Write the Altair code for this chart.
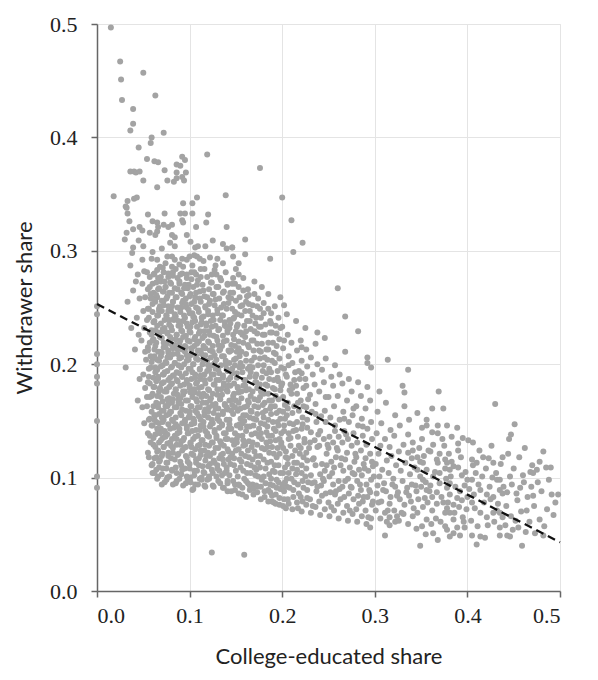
import altair as alt
import pandas as pd

# ---- scatter values (x = college-educated share, y = withdrawer share)
edge_zero = [(0,.251),(0,.244),(0,.209),(0,.2),(0,.189),(0,.183),(0,.15),(0,.101),(0,.091)]

top_outliers = [(.015,.497),(.025,.467),(.026,.451),(.050,.457),(.027,.433),(.063,.437),(.039,.425),(.039,.412),
 (.036,.406),(.072,.404),(.059,.400),(.058,.395),(.045,.391),(.119,.385),(.054,.381),(.062,.379),(.066,.378),
 (.092,.383),(.095,.380),(.086,.376),(.090,.375),(.176,.373),(.036,.370),(.040,.370),(.042,.369),(.046,.370),
 (.073,.371),(.086,.369),(.096,.369),(.050,.362),(.076,.362),(.083,.361),(.086,.364),(.092,.365),(.094,.362),
 (.065,.356),(.018,.348),(.033,.344),(.040,.346),(.043,.347),(.032,.338),(.093,.342),(.103,.342),(.108,.347),
 (.139,.349),(.200,.347),(.031,.339),(.033,.333),(.055,.332),(.073,.333),(.090,.333),(.095,.333),(.103,.333),(.120,.332)]

upper_fringe = [(.035,.326),(.039,.319),(.046,.321),(.049,.318),(.060,.326),(.065,.325),(.066,.321),(.065,.317),
 (.032,.316),(.030,.310),(.045,.309),(.039,.303),(.038,.298),(.050,.304),(.057,.316),(.063,.314),(.072,.323),
 (.077,.321),(.081,.323),(.081,.314),(.084,.312),(.079,.307),(.084,.304),(.092,.327),(.093,.325),(.097,.314),
 (.107,.321),(.118,.325),(.101,.308),(.106,.303),(.109,.304),(.117,.304),(.125,.309),(.136,.306),(.140,.302),
 (.146,.303),(.140,.321),(.060,.299),(.070,.302),(.049,.292),(.059,.293),(.065,.292),(.068,.286),(.076,.295),
 (.081,.295),(.084,.292),(.081,.286),(.092,.293),(.097,.292),(.100,.295),(.105,.296),(.108,.295),(.111,.293),
 (.122,.294),(.130,.293),(.136,.289),(.147,.295),(.160,.310),(.160,.297),(.187,.293),(.222,.307),(.210,.327),
 (.212,.299),(.146,.303),(.225,.232),(.238,.228),(.246,.223),(.221,.215),(.260,.267),(.268,.242),(.282,.229),
 (.268,.211),(.292,.206),(.292,.201),(.296,.197),(.074,.289),(.089,.288),(.103,.287),(.115,.291),(.128,.287),(.153,.289)]

left_fringe = [(.042,.273),(.033,.255),(.041,.213),(.031,.197),(.052,.211),(.044,.168),(.046,.187),(.045,.226),
 (.043,.241),(.046,.258),(.044,.279),(.037,.232),(.039,.265),(.036,.287),(.051,.148),(.049,.162),(.052,.179),
 (.05,.191),(.053,.204),(.048,.221),(.051,.232),(.05,.247),(.052,.259),(.049,.271),(.051,.282)]

bottom_fringe = [(.070,.094),(.075,.098),(.082,.094),(.059,.111),(.064,.107),(.098,.098),(.103,.089),(.113,.098),
 (.119,.098),(.141,.088),(.154,.093),(.168,.094),(.172,.093),(.187,.087),(.191,.078),(.124,.034),(.159,.032),
 (.104,.090),(.204,.073),(.200,.090),(.205,.092)]

core_a = [(.055,.122),(.057,.137),(.056,.151),(.054,.163),(.057,.171),(.055,.184),(.056,.196),(.058,.207),(.055,.215),
 (.057,.228),(.054,.239),(.056,.249),(.058,.258),(.055,.266),(.057,.277),
 (.06,.104),(.062,.117),(.061,.129),(.063,.138),(.06,.146),(.062,.155),(.061,.163),(.059,.172),(.062,.18),(.061,.188),
 (.063,.197),(.06,.205),(.062,.213),(.061,.222),(.059,.23),(.062,.238),(.06,.246),(.063,.255),(.061,.263),(.06,.271),(.062,.28),
 (.066,.101),(.067,.114),(.065,.123),(.067,.131),(.066,.14),(.064,.149),(.067,.156),(.066,.165),(.065,.172),(.068,.179),
 (.066,.187),(.065,.195),(.067,.203),(.066,.211),(.064,.219),(.067,.226),(.065,.234),(.066,.243),(.068,.251),(.065,.259),
 (.067,.267),(.066,.276),
 (.071,.108),(.07,.119),(.072,.127),(.071,.135),(.069,.143),(.072,.151),(.07,.159),(.071,.167),(.073,.176),(.07,.183),
 (.072,.191),(.071,.199),(.069,.207),(.072,.215),(.07,.223),(.071,.231),(.073,.239),(.07,.247),(.072,.256),(.071,.264),
 (.069,.273),(.072,.281),
 (.076,.1),(.075,.113),(.077,.122),(.076,.13),(.074,.139),(.077,.147),(.075,.155),(.076,.163),(.078,.17),(.075,.178),
 (.077,.186),(.076,.194),(.074,.202),(.077,.21),(.075,.218),(.076,.227),(.078,.235),(.075,.243),(.077,.251),(.076,.26),
 (.074,.268),(.077,.277)]

core_b = [(.081,.106),(.08,.117),(.082,.126),(.081,.134),(.079,.143),(.082,.15),(.08,.158),(.081,.166),(.083,.174),(.08,.182),
 (.082,.19),(.081,.198),(.079,.206),(.082,.214),(.08,.222),(.081,.23),(.083,.239),(.08,.247),(.082,.255),(.081,.263),
 (.079,.272),(.082,.281),
 (.086,.097),(.085,.109),(.087,.12),(.086,.129),(.084,.137),(.087,.145),(.085,.153),(.086,.162),(.088,.169),(.085,.177),
 (.087,.185),(.086,.193),(.084,.201),(.087,.209),(.085,.217),(.086,.226),(.088,.234),(.085,.242),(.087,.25),(.086,.259),
 (.084,.267),(.087,.276),
 (.091,.103),(.09,.114),(.092,.124),(.091,.132),(.089,.14),(.092,.148),(.09,.157),(.091,.165),(.093,.173),(.09,.181),
 (.092,.189),(.091,.197),(.089,.205),(.092,.213),(.09,.221),(.091,.23),(.093,.238),(.09,.246),(.092,.254),(.091,.263),
 (.089,.271),(.092,.28),
 (.096,.095),(.095,.108),(.097,.118),(.096,.127),(.094,.135),(.097,.143),(.095,.151),(.096,.159),(.098,.168),(.095,.176),
 (.097,.184),(.096,.192),(.094,.2),(.097,.208),(.095,.216),(.096,.225),(.098,.233),(.095,.241),(.097,.25),(.096,.258),
 (.094,.267),(.097,.276),
 (.101,.1),(.1,.112),(.102,.121),(.101,.13),(.099,.139),(.102,.147),(.1,.155),(.101,.163),(.103,.171),(.1,.179),
 (.102,.187),(.101,.196),(.099,.204),(.102,.212),(.1,.22),(.101,.228),(.103,.237),(.1,.245),(.102,.253),(.101,.262),
 (.099,.27),(.102,.281),
 (.106,.094),(.105,.106),(.107,.116),(.106,.125),(.104,.134),(.107,.142),(.105,.15),(.106,.159),(.108,.167),(.105,.175),
 (.107,.183),(.106,.191),(.104,.2),(.107,.208),(.105,.216),(.106,.224),(.108,.233),(.105,.241),(.107,.25),(.106,.259),
 (.104,.268),(.107,.279)]

core_c = [(.111,.099),(.11,.111),(.112,.12),(.111,.129),(.109,.137),(.112,.146),(.11,.154),(.111,.162),(.113,.171),(.11,.179),
 (.112,.187),(.111,.195),(.109,.204),(.112,.212),(.11,.22),(.111,.229),(.113,.237),(.11,.246),(.112,.255),(.111,.264),
 (.109,.274),(.112,.284),
 (.116,.093),(.115,.105),(.117,.115),(.116,.124),(.114,.133),(.117,.141),(.115,.149),(.116,.158),(.118,.166),(.115,.174),
 (.117,.183),(.116,.191),(.114,.2),(.117,.208),(.115,.216),(.116,.225),(.118,.234),(.115,.242),(.117,.251),(.116,.26),(.114,.27),
 (.121,.101),(.12,.11),(.122,.119),(.121,.128),(.119,.137),(.122,.145),(.12,.153),(.121,.162),(.123,.17),(.12,.178),
 (.122,.187),(.121,.195),(.119,.203),(.122,.212),(.12,.22),(.121,.229),(.123,.238),(.12,.247),(.122,.256),(.121,.266),(.119,.277),
 (.126,.092),(.125,.104),(.127,.113),(.126,.122),(.124,.131),(.127,.14),(.125,.148),(.126,.157),(.128,.165),(.125,.174),
 (.127,.182),(.126,.191),(.124,.199),(.127,.208),(.125,.216),(.126,.225),(.128,.234),(.125,.243),(.127,.252),(.126,.262),
 (.124,.272),(.127,.283),
 (.131,.097),(.13,.108),(.132,.117),(.131,.126),(.129,.135),(.132,.144),(.13,.152),(.131,.161),(.133,.169),(.13,.178),
 (.132,.186),(.131,.195),(.129,.204),(.132,.212),(.13,.221),(.131,.23),(.133,.239),(.13,.248),(.132,.258),(.131,.268),(.129,.279),
 (.136,.091),(.135,.102),(.137,.112),(.136,.121),(.134,.13),(.137,.139),(.135,.147),(.136,.156),(.138,.164),(.135,.173),
 (.137,.181),(.136,.19),(.134,.199),(.137,.207),(.135,.216),(.136,.225),(.138,.234),(.135,.243),(.137,.253),(.136,.263),(.134,.274),
 (.141,.095),(.14,.106),(.142,.116),(.141,.125),(.139,.134),(.142,.143),(.14,.151),(.141,.16),(.143,.168),(.14,.177),
 (.142,.186),(.141,.194),(.139,.203),(.142,.212),(.14,.221),(.141,.23),(.143,.239),(.14,.249),(.142,.259),(.141,.27),(.139,.281)]

core_d = [(.056,.118),(.058,.131),(.055,.139),(.057,.152),(.059,.158),(.054,.171),(.057,.183),(.056,.189),(.058,.197),
 (.055,.212),(.057,.219),(.059,.226),(.056,.241),(.055,.249),(.058,.262),(.057,.268),(.054,.281),
 (.062,.104),(.06,.112),(.063,.127),(.061,.135),(.059,.146),(.062,.151),(.064,.166),(.06,.174),(.061,.18),(.063,.193),
 (.059,.202),(.062,.207),(.06,.221),(.063,.23),(.061,.237),(.06,.253),(.062,.258),(.064,.272),(.061,.279),
 (.065,.099),(.067,.109),(.064,.118),(.066,.124),(.068,.139),(.065,.143),(.063,.155),(.066,.162),(.067,.176),(.064,.185),
 (.066,.189),(.065,.204),(.068,.211),(.063,.216),(.066,.228),(.065,.243),(.067,.247),(.064,.261),(.066,.266),(.065,.283),
 (.07,.103),(.068,.115),(.071,.121),(.069,.133),(.067,.148),(.07,.153),(.072,.159),(.069,.171),(.068,.178),(.071,.191),
 (.069,.198),(.07,.21),(.068,.224),(.071,.229),(.069,.236),(.067,.249),(.07,.256),(.072,.264),(.069,.277),
 (.073,.096),(.075,.108),(.072,.127),(.074,.136),(.073,.141),(.071,.149),(.074,.163),(.076,.169),(.072,.184),(.073,.193),
 (.075,.201),(.074,.215),(.072,.219),(.073,.232),(.075,.243),(.072,.252),(.074,.268),(.073,.273),(.071,.285),
 (.078,.101),(.076,.113),(.077,.119),(.079,.131),(.076,.138),(.078,.156),(.077,.165),(.075,.176),(.078,.18),(.079,.188),
 (.076,.206),(.077,.212),(.079,.224),(.076,.228),(.078,.239),(.077,.247),(.075,.258),(.078,.263),(.077,.28),
 (.081,.107),(.082,.122),(.08,.128),(.083,.144),(.081,.151),(.079,.158),(.082,.169),(.081,.183),(.083,.19),(.08,.197),
 (.082,.209),(.081,.217),(.08,.233),(.083,.24),(.081,.251),(.082,.255),(.08,.271),(.082,.278),
 (.085,.095),(.086,.104),(.084,.116),(.086,.134),(.087,.139),(.085,.147),(.084,.162),(.087,.173),(.085,.178),(.086,.186),
 (.084,.201),(.087,.213),(.085,.222),(.086,.226),(.084,.244),(.085,.259),(.087,.266),(.085,.284),
 (.089,.099),(.091,.111),(.088,.121),(.09,.129),(.089,.143),(.091,.155),(.088,.166),(.09,.17),(.089,.192),(.088,.199),
 (.091,.206),(.089,.218),(.09,.234),(.088,.238),(.091,.25),(.089,.273),(.09,.279),
 (.093,.093),(.092,.107),(.094,.126),(.093,.133),(.095,.149),(.092,.16),(.093,.176),(.094,.182),(.092,.189),(.095,.211),
 (.093,.224),(.092,.229),(.094,.243),(.093,.256),(.092,.262),(.095,.27),(.093,.286),
 (.097,.101),(.098,.114),(.096,.119),(.098,.139),(.097,.145),(.099,.153),(.096,.168),(.097,.186),(.099,.196),(.097,.203),
 (.096,.215),(.098,.221),(.097,.236),(.099,.248),(.096,.253),(.098,.267),(.097,.279),
 (.101,.096),(.1,.108),(.102,.127),(.101,.131),(.103,.141),(.1,.158),(.102,.163),(.101,.175),(.1,.181),(.103,.193),
 (.101,.208),(.102,.214),(.1,.229),(.101,.233),(.103,.245),(.1,.26),(.102,.275),
 (.105,.102),(.107,.113),(.104,.12),(.106,.136),(.105,.148),(.104,.152),(.107,.169),(.105,.178),(.106,.188),(.104,.2),
 (.107,.205),(.105,.222),(.106,.238),(.104,.242),(.105,.255),(.107,.263),(.105,.281),
 (.109,.094),(.108,.106),(.11,.117),(.109,.128),(.111,.142),(.108,.157),(.109,.162),(.11,.174),(.108,.184),(.111,.196),
 (.109,.212),(.108,.218),(.11,.227),(.109,.249),(.111,.258),(.108,.27),
 (.113,.1),(.114,.11),(.112,.124),(.113,.133),(.115,.145),(.112,.151),(.114,.166),(.113,.18),(.112,.19),(.115,.203),
 (.113,.209),(.114,.223),(.112,.235),(.113,.241),(.115,.265),(.112,.277),
 (.117,.092),(.116,.104),(.118,.119),(.117,.129),(.119,.139),(.116,.155),(.117,.16),(.118,.172),(.116,.186),(.119,.194),
 (.117,.214),(.116,.229),(.118,.236),(.117,.25),(.119,.259),(.116,.284),
 (.121,.099),(.122,.112),(.12,.122),(.121,.136),(.123,.147),(.12,.158),(.122,.168),(.121,.177),(.12,.199),(.123,.206),
 (.121,.219),(.122,.226),(.12,.244),(.121,.253),(.123,.272),
 (.125,.093),(.124,.107),(.126,.115),(.125,.131),(.127,.142),(.124,.151),(.125,.164),(.126,.182),(.124,.191),(.127,.201),
 (.125,.211),(.124,.233),(.126,.239),(.125,.262),(.124,.279),
 (.129,.101),(.13,.111),(.128,.126),(.129,.137),(.131,.155),(.128,.161),(.13,.173),(.129,.186),(.128,.196),(.131,.217),
 (.129,.224),(.13,.245),(.128,.257),(.129,.268),
 (.133,.095),(.132,.106),(.134,.12),(.133,.132),(.135,.146),(.132,.15),(.133,.169),(.134,.178),(.132,.192),(.135,.207),
 (.133,.213),(.132,.231),(.134,.25),(.133,.276),
 (.137,.091),(.138,.104),(.136,.116),(.137,.128),(.139,.139),(.136,.158),(.138,.165),(.137,.183),(.136,.188),(.139,.2),
 (.137,.22),(.138,.237),(.136,.243),(.137,.264),
 (.141,.097),(.14,.109),(.142,.123),(.141,.134),(.143,.143),(.14,.162),(.141,.176),(.142,.181),(.14,.196),(.143,.211),
 (.141,.228),(.14,.233),(.142,.254),(.141,.271)]

mid_band = [(.145,.088),(.147,.097),(.144,.112),(.146,.121),(.148,.129),(.145,.143),(.143,.151),(.146,.164),(.147,.172),
 (.144,.188),(.146,.196),(.148,.204),(.145,.217),(.143,.232),(.147,.24),(.145,.258),(.146,.271),
 (.149,.094),(.15,.106),(.148,.117),(.151,.134),(.149,.139),(.147,.156),(.15,.168),(.152,.179),(.148,.183),(.149,.199),
 (.151,.211),(.148,.222),(.15,.229),(.149,.246),(.147,.263),(.15,.284),
 (.153,.086),(.152,.101),(.155,.109),(.153,.125),(.151,.131),(.154,.147),(.152,.159),(.155,.161),(.153,.175),(.151,.192),
 (.154,.207),(.153,.214),(.152,.235),(.155,.251),(.153,.268),
 (.157,.091),(.159,.099),(.156,.114),(.158,.128),(.157,.137),(.155,.144),(.158,.155),(.156,.17),(.159,.186),(.157,.193),
 (.155,.201),(.158,.219),(.157,.226),(.156,.243),(.158,.276),
 (.161,.083),(.162,.104),(.16,.119),(.163,.124),(.161,.141),(.159,.15),(.162,.163),(.161,.177),(.16,.181),(.163,.196),
 (.161,.209),(.16,.224),(.162,.238),(.161,.255),(.163,.266),
 (.165,.089),(.163,.095),(.166,.111),(.164,.132),(.167,.138),(.165,.153),(.164,.166),(.166,.172),(.165,.189),(.167,.203),
 (.164,.215),(.166,.231),(.165,.247),(.164,.261),
 (.169,.085),(.171,.102),(.168,.116),(.17,.123),(.169,.146),(.167,.158),(.17,.169),(.171,.184),(.168,.197),(.17,.206),
 (.169,.221),(.171,.236),(.168,.252),(.17,.273),
 (.173,.092),(.172,.107),(.174,.113),(.173,.129),(.175,.136),(.172,.151),(.174,.162),(.173,.179),(.172,.191),(.175,.212),
 (.173,.227),(.172,.241),(.174,.258),
 (.177,.081),(.178,.098),(.176,.119),(.178,.134),(.177,.148),(.179,.157),(.176,.171),(.177,.176),(.179,.194),(.176,.205),
 (.178,.218),(.177,.233),(.176,.249),(.178,.268),
 (.181,.088),(.18,.101),(.182,.108),(.181,.125),(.183,.14),(.18,.153),(.181,.166),(.182,.182),(.18,.199),(.183,.213),
 (.181,.226),(.18,.254),
 (.185,.079),(.187,.094),(.184,.113),(.186,.122),(.185,.137),(.184,.145),(.187,.161),(.185,.174),(.186,.187),(.184,.204),
 (.185,.219),(.187,.238),(.185,.262),
 (.189,.084),(.188,.099),(.19,.106),(.189,.127),(.191,.143),(.188,.156),(.189,.168),(.19,.179),(.188,.193),(.191,.21),
 (.189,.228),(.188,.245),
 (.193,.077),(.194,.091),(.192,.111),(.194,.118),(.193,.133),(.195,.149),(.192,.163),(.193,.172),(.195,.188),(.192,.201),
 (.194,.216),(.193,.234),(.192,.251),
 (.197,.082),(.196,.096),(.198,.104),(.197,.121),(.199,.139),(.196,.146),(.197,.159),(.198,.177),(.196,.185),(.199,.197),
 (.197,.222),(.196,.241),(.198,.259)]

mid_extra = [(.143,.102),(.144,.118),(.146,.133),(.143,.147),(.145,.159),(.147,.169),(.144,.181),(.146,.192),(.143,.201),
 (.145,.212),(.147,.226),(.144,.236),(.146,.249),(.144,.263),(.147,.276),
 (.149,.089),(.148,.111),(.15,.124),(.151,.146),(.149,.162),(.148,.174),(.151,.188),(.15,.205),(.149,.216),(.151,.233),
 (.148,.241),(.15,.256),(.149,.271),
 (.153,.094),(.154,.116),(.152,.137),(.155,.152),(.153,.166),(.152,.18),(.154,.197),(.153,.22),(.155,.228),(.152,.244),
 (.154,.259),(.153,.279),
 (.157,.085),(.158,.106),(.156,.121),(.158,.133),(.157,.148),(.159,.162),(.156,.176),(.158,.181),(.157,.198),(.156,.211),
 (.159,.234),(.157,.252),(.158,.265),
 (.161,.097),(.162,.112),(.16,.129),(.162,.145),(.161,.155),(.163,.168),(.16,.186),(.161,.203),(.163,.217),(.161,.229),
 (.16,.247),(.162,.26),
 (.165,.093),(.166,.104),(.164,.118),(.167,.127),(.165,.145),(.166,.159),(.164,.178),(.166,.193),(.165,.198),(.167,.221),
 (.165,.238),(.164,.253),
 (.169,.09),(.17,.109),(.168,.131),(.171,.139),(.169,.152),(.17,.163),(.168,.176),(.171,.189),(.169,.212),(.17,.229),
 (.168,.243),(.17,.262),
 (.173,.087),(.174,.101),(.172,.119),(.175,.143),(.173,.156),(.174,.168),(.172,.184),(.174,.199),(.173,.218),(.175,.233),
 (.173,.251),
 (.177,.092),(.176,.109),(.178,.126),(.177,.139),(.179,.164),(.176,.182),(.178,.188),(.177,.211),(.179,.226),(.177,.241),
 (.181,.083),(.182,.095),(.18,.116),(.183,.131),(.181,.147),(.182,.159),(.18,.174),(.183,.192),(.181,.206),(.182,.235),(.18,.245),
 (.185,.089),(.186,.103),(.184,.127),(.187,.132),(.185,.151),(.186,.168),(.184,.181),(.186,.196),(.185,.213),(.187,.228),(.185,.249),
 (.189,.079),(.19,.093),(.188,.114),(.191,.121),(.189,.137),(.19,.149),(.188,.163),(.191,.186),(.189,.203),(.19,.219),(.188,.236),
 (.193,.085),(.194,.098),(.192,.105),(.195,.126),(.193,.141),(.194,.157),(.192,.178),(.195,.194),(.193,.209),(.194,.227),
 (.197,.076),(.198,.09),(.196,.111),(.199,.129),(.197,.134),(.198,.152),(.196,.169),(.199,.181),(.197,.205),(.198,.232),
 (.202,.081),(.203,.096),(.201,.104),(.204,.118),(.202,.141),(.203,.152),(.201,.171),(.204,.191),(.202,.221),
 (.207,.077),(.208,.091),(.206,.112),(.209,.128),(.207,.134),(.208,.148),(.206,.166),(.209,.182),(.207,.199),
 (.212,.089),(.213,.096),(.211,.108),(.214,.124),(.212,.147),(.213,.163),(.211,.179),(.214,.193),
 (.217,.073),(.218,.086),(.216,.113),(.219,.121),(.217,.136),(.218,.159),(.216,.174),(.219,.187),
 (.222,.079),(.223,.091),(.221,.111),(.224,.131),(.222,.147),(.223,.163),(.221,.192),
 (.227,.082),(.228,.096),(.226,.108),(.229,.126),(.227,.144),(.228,.169),(.226,.181)]

band_20_30 = [(.201,.075),(.202,.088),(.2,.094),(.203,.109),(.201,.126),(.199,.131),(.202,.146),(.201,.158),(.203,.164),
 (.2,.183),(.202,.196),(.201,.214),(.2,.233),(.202,.252),
 (.206,.081),(.205,.099),(.207,.104),(.206,.117),(.204,.123),(.207,.139),(.205,.155),(.206,.161),(.208,.177),(.205,.189),
 (.207,.207),(.206,.226),(.205,.244),
 (.211,.072),(.212,.083),(.21,.099),(.213,.113),(.211,.119),(.209,.135),(.212,.141),(.211,.157),(.21,.174),(.213,.186),
 (.211,.201),(.21,.219),
 (.216,.078),(.217,.094),(.215,.103),(.216,.107),(.218,.128),(.215,.142),(.216,.149),(.217,.166),(.215,.181),(.218,.194),
 (.216,.212),(.215,.238),
 (.221,.07),(.22,.083),(.222,.097),(.221,.104),(.223,.118),(.22,.126),(.221,.143),(.222,.153),(.22,.168),(.223,.179),
 (.221,.203),(.22,.221),
 (.226,.076),(.227,.089),(.225,.101),(.227,.115),(.226,.122),(.224,.134),(.227,.151),(.226,.162),(.225,.187),(.227,.198),
 (.226,.213),
 (.231,.069),(.23,.081),(.232,.095),(.231,.102),(.233,.116),(.23,.131),(.231,.14),(.232,.158),(.23,.173),(.233,.191),
 (.231,.206),
 (.236,.074),(.237,.088),(.235,.096),(.236,.111),(.238,.127),(.235,.133),(.237,.149),(.236,.165),(.235,.182),(.238,.2),
 (.236,.218),
 (.241,.067),(.24,.079),(.242,.093),(.241,.103),(.243,.112),(.24,.128),(.241,.141),(.242,.154),(.24,.176),(.243,.195),
 (.246,.072),(.247,.086),(.245,.097),(.246,.106),(.248,.121),(.245,.134),(.247,.149),(.246,.159),(.245,.184),(.247,.205),
 (.251,.066),(.25,.078),(.252,.087),(.251,.101),(.253,.114),(.25,.126),(.251,.136),(.252,.153),(.25,.171),(.253,.189),
 (.256,.071),(.257,.085),(.255,.094),(.256,.109),(.258,.118),(.255,.131),(.257,.146),(.256,.163),(.255,.181),(.257,.199),
 (.261,.064),(.26,.077),(.262,.09),(.261,.097),(.263,.111),(.26,.124),(.261,.136),(.262,.151),(.26,.172),(.262,.191),
 (.266,.069),(.267,.083),(.265,.092),(.266,.106),(.268,.116),(.265,.131),(.267,.141),(.266,.158),(.265,.183),
 (.271,.062),(.27,.075),(.272,.086),(.271,.099),(.273,.109),(.27,.122),(.271,.134),(.272,.149),(.27,.168),(.272,.187),
 (.276,.068),(.277,.081),(.275,.091),(.276,.104),(.278,.114),(.275,.128),(.277,.139),(.276,.155),(.275,.176),
 (.281,.061),(.28,.072),(.282,.084),(.281,.097),(.283,.107),(.28,.118),(.281,.131),(.282,.146),(.28,.163),(.282,.184),
 (.286,.066),(.287,.079),(.285,.089),(.286,.102),(.288,.112),(.285,.124),(.287,.137),(.286,.152),(.285,.172),
 (.291,.059),(.29,.071),(.292,.083),(.291,.094),(.293,.106),(.29,.117),(.291,.129),(.292,.143),(.29,.161),(.292,.18),
 (.296,.064),(.297,.076),(.295,.087),(.296,.098),(.298,.11),(.295,.121),(.297,.134),(.296,.149),(.295,.168),(.295,.056)]

band_extra = [(.233,.075),(.238,.092),(.234,.117),(.239,.138),(.243,.084),(.244,.099),(.248,.111),(.249,.129),(.253,.074),
 (.254,.104),(.258,.088),(.259,.126),(.263,.081),(.264,.117),(.268,.097),(.269,.138),(.273,.071),(.274,.092),(.278,.103),
 (.279,.121),(.283,.077),(.284,.094),(.288,.083),(.289,.108),(.293,.065),(.294,.089),(.298,.079),(.299,.101),(.236,.156),
 (.247,.171),(.257,.141),(.267,.152),(.277,.161),(.287,.145),(.297,.114),(.304,.078),(.309,.089),(.314,.071),(.319,.094),
 (.324,.084),(.329,.069),(.334,.087),(.339,.079),(.344,.093),(.354,.082),(.359,.088)]

band_30_40 = [(.314,.204),(.336,.195),(.330,.181),(.332,.175),(.369,.176),(.362,.161),(.374,.161),(.378,.146),(.389,.144),
 (.351,.144),(.356,.146),(.362,.140),(.368,.139),(.395,.135),(.390,.130),(.390,.124),(.360,.123),(.367,.116),(.376,.116),
 (.383,.114),(.394,.102),(.400,.098),(.356,.089),(.362,.083),(.367,.087),(.370,.095),(.378,.091),(.381,.095),(.352,.098),
 (.363,.101),(.370,.104),(.376,.108),(.381,.107),(.378,.113),(.368,.113),(.352,.113),(.356,.107),(.346,.107),(.349,.101),
 (.341,.124),(.336,.122),(.340,.117),(.346,.118),(.349,.114),(.389,.082),(.394,.080),(.400,.083),(.392,.049),(.397,.056),
 (.395,.065),(.389,.056),(.385,.063),(.381,.069),(.378,.073),(.379,.078),(.385,.076),(.374,.078),(.376,.069),(.378,.054),
 (.385,.051),(.381,.048),(.316,.065),(.322,.061),(.316,.058),(.311,.049),(.349,.040),(.313,.061),(.324,.066),
 (.301,.071),(.302,.086),(.303,.093),(.301,.112),(.304,.121),(.302,.139),(.303,.158),
 (.306,.064),(.307,.079),(.305,.101),(.308,.107),(.306,.128),(.307,.148),(.305,.176),
 (.311,.069),(.312,.088),(.31,.095),(.313,.115),(.311,.134),(.312,.166),
 (.316,.077),(.317,.083),(.315,.104),(.318,.119),(.316,.127),(.317,.142),
 (.321,.071),(.322,.092),(.32,.099),(.323,.111),(.321,.137),(.322,.155),
 (.326,.062),(.327,.081),(.325,.087),(.328,.106),(.326,.123),(.327,.146),
 (.331,.068),(.332,.076),(.33,.097),(.333,.113),(.331,.129),(.332,.163),
 (.336,.059),(.337,.084),(.335,.091),(.338,.103),(.336,.138),(.337,.151),
 (.341,.066),(.342,.073),(.34,.094),(.343,.109),(.341,.131),
 (.346,.069),(.347,.081),(.345,.088),(.348,.126),(.346,.157),
 (.351,.057),(.352,.074),(.35,.092),(.353,.119),(.351,.134),
 (.356,.063),(.357,.078),(.355,.096),(.358,.124),(.356,.151),
 (.361,.059),(.362,.071),(.36,.093),(.363,.129),
 (.366,.064),(.367,.077),(.365,.105),(.368,.146),
 (.371,.061),(.372,.083),(.37,.121),(.373,.134),
 (.376,.057),(.377,.099),(.375,.128),
 (.381,.085),(.382,.101),(.38,.121),(.383,.136),
 (.386,.069),(.387,.092),(.385,.11),
 (.391,.074),(.392,.088),(.39,.109),(.393,.118),
 (.396,.061),(.397,.093),(.398,.105),(.399,.072),
 (.363,.051),(.355,.05),(.345,.055),(.368,.045)]

band_40_50 = [(.401,.133),(.406,.131),(.405,.116),(.406,.111),(.410,.113),(.417,.118),(.423,.117),(.438,.118),(.428,.113),
 (.416,.101),(.427,.100),(.432,.098),(.435,.098),(.446,.101),(.460,.102),(.468,.105),(.470,.111),(.471,.104),(.475,.107),
 (.457,.091),(.454,.080),(.464,.071),(.471,.084),(.414,.089),(.421,.085),(.428,.083),(.435,.089),(.438,.086),(.443,.087),
 (.425,.081),(.405,.078),(.408,.073),(.414,.069),(.421,.065),(.428,.069),(.432,.071),(.435,.069),(.438,.065),(.435,.056),
 (.449,.054),(.455,.056),(.435,.049),(.443,.049),(.446,.048),(.473,.051),(.482,.049),(.414,.048),(.419,.047),(.405,.049),
 (.410,.041),(.430,.165),(.451,.147),(.447,.138),(.445,.134),(.482,.123),(.490,.109),(.485,.109),(.498,.085),(.491,.085),
 (.459,.040),(.405,.098),
 (.402,.09),(.404,.062),(.407,.085),(.409,.104),(.411,.057),(.412,.094),(.413,.124),(.418,.078),(.42,.108),(.422,.058),
 (.424,.092),(.426,.128),(.429,.061),(.431,.104),(.433,.077),(.436,.112),(.439,.092),(.441,.058),(.442,.075),(.444,.121),
 (.447,.066),(.448,.094),(.45,.108),(.452,.062),(.453,.086),(.456,.118),(.458,.07),(.461,.096),(.463,.052),(.465,.083),
 (.467,.061),(.469,.092),(.472,.075),(.476,.096),(.478,.063),(.48,.088),(.483,.057),(.486,.072),(.488,.098),(.493,.067),
 (.495,.078),(.462,.126),(.478,.114)]

# fitted line (dashed)
fit_x = [0.0, 0.5]
fit_y = [0.253, 0.043]

# axis ticks
ticks = [0.0, 0.1, 0.2, 0.3, 0.4, 0.5]

all_pts = (edge_zero + top_outliers + upper_fringe + left_fringe + bottom_fringe + core_a + core_b + core_c + core_d
           + mid_band + mid_extra + band_20_30 + band_extra + band_30_40 + band_40_50)
pts = pd.DataFrame(all_pts, columns=["college", "withdrawer"])
fit = pd.DataFrame({"college": fit_x, "withdrawer": fit_y})

xscale = alt.Scale(domain=[0, 0.5], nice=False, zero=False)
yscale = alt.Scale(domain=[0, 0.5], nice=False, zero=False)

xaxis = alt.Axis(values=ticks, format=".1f", title="College-educated share", grid=True,
                 tickSize=6, labelPadding=8, titlePadding=20)
yaxis = alt.Axis(values=ticks, format=".1f", title="Withdrawer share", grid=True,
                 tickSize=6, labelPadding=14, titlePadding=13)

scatter = alt.Chart(pts).mark_circle(size=36, color="#a3a3a3", opacity=1).encode(
    x=alt.X("college:Q", scale=xscale, axis=xaxis),
    y=alt.Y("withdrawer:Q", scale=yscale, axis=yaxis),
)

line = alt.Chart(fit).mark_line(color="#111111", strokeWidth=2.3, strokeDash=[8, 5]).encode(
    x=alt.X("college:Q", scale=xscale),
    y=alt.Y("withdrawer:Q", scale=yscale),
)

chart = alt.layer(scatter, line).properties(
    width=463, height=567,
    autosize=alt.AutoSizeParams(type="none"),
    padding={"left": 89, "top": 16, "right": 30, "bottom": 80},
    background="white",
).configure_view(
    stroke="#e4e4e4", strokeWidth=1
).configure_axis(
    gridColor="#e4e4e4", gridWidth=1,
    domainColor="#666666", domainWidth=1.5,
    tickColor="#666666", tickWidth=1.5,
    labelFont="Liberation Serif", labelFontSize=22, labelColor="#222222",
    titleFont="Lato", titleFontSize=22, titleFontWeight="normal", titleColor="#222222",
)

chart.save("out.html", embed_options={"renderer": "svg", "actions": False})
